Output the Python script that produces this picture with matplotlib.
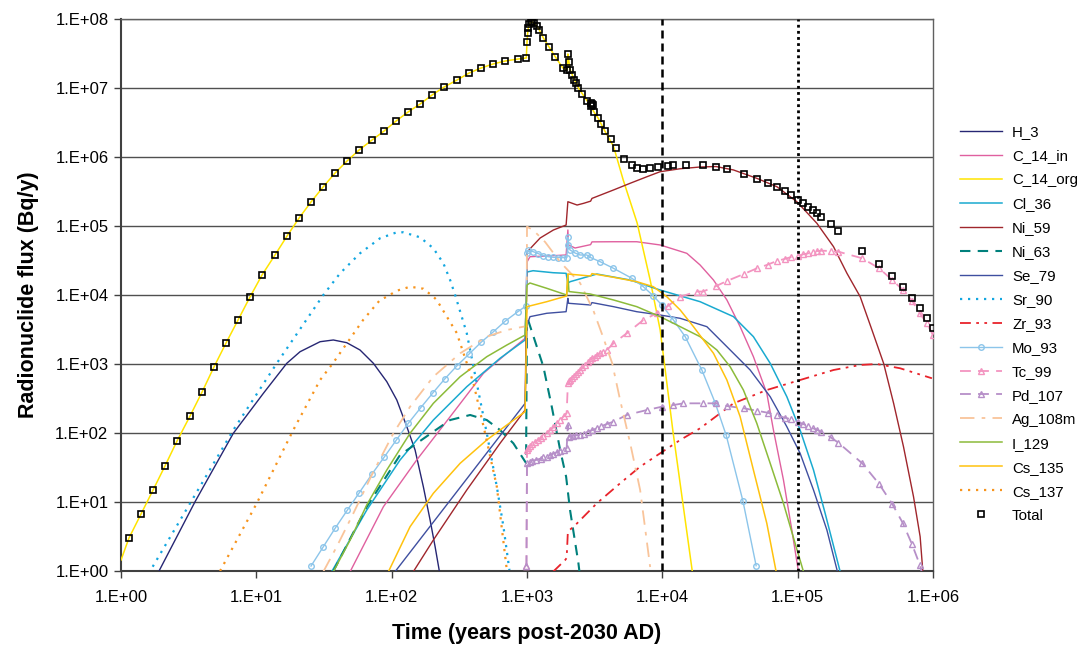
import numpy as np
import matplotlib
matplotlib.use('Agg')
import matplotlib.pyplot as plt
from matplotlib.ticker import FixedLocator, FuncFormatter, NullLocator

# All values as log10(time, years) and log10(flux, Bq/y)
H_3_t = [0.281, 0.547, 0.830, 1.052, 1.225, 1.323, 1.471, 1.569, 1.668, 1.766, 1.865, 1.964, 2.038, 2.112, 2.173, 2.234, 2.284, 2.321, 2.353]
H_3_f = [0.0, 1.004, 1.996, 2.575, 3.010, 3.178, 3.323, 3.348, 3.309, 3.203, 3.010, 2.744, 2.478, 2.091, 1.754, 1.222, 0.739, 0.352, -0.01]

C_14_in_t = [1.693, 1.939, 2.185, 2.432, 2.678, 2.851, 2.986, 3.0, 3.022, 3.146, 3.289, 3.302, 3.307, 3.355, 3.47, 3.48, 3.639, 3.811, 3.984, 4.181, 4.279, 4.378, 4.477, 4.575, 4.673, 4.772, 4.821, 4.895, 4.957, 5.006]
C_14_in_f = [-0.01, 0.932, 1.609, 2.236, 2.865, 3.155, 3.372, 4.478, 4.555, 4.565, 4.580, 4.942, 4.725, 4.681, 4.73, 4.77, 4.772, 4.772, 4.725, 4.604, 4.435, 4.217, 3.928, 3.541, 3.106, 2.575, 2.043, 1.319, 0.594, -0.01]

C_14_org_t = [0.0, 0.059, 0.148, 0.237, 0.325, 0.414, 0.510, 0.599, 0.687, 0.776, 0.865, 0.953, 1.042, 1.138, 1.227, 1.316, 1.404, 1.493, 1.582, 1.670, 1.759, 1.855, 1.944, 2.033, 2.121, 2.210, 2.299, 2.387, 2.483, 2.572, 2.661, 2.749, 2.838, 2.934, 2.995, 3.0, 3.005, 3.01, 3.017, 3.027, 3.039, 3.052, 3.072, 3.091, 3.121, 3.163, 3.21, 3.265, 3.298, 3.302, 3.31, 3.32, 3.335, 3.35, 3.365, 3.38, 3.41, 3.445, 3.47, 3.495, 3.525, 3.548, 3.575, 3.64, 3.711, 3.814, 3.910, 3.984, 4.080, 4.221]
C_14_org_f = [0.159, 0.478, 0.826, 1.174, 1.522, 1.884, 2.246, 2.594, 2.957, 3.304, 3.638, 3.971, 4.290, 4.580, 4.855, 5.116, 5.348, 5.565, 5.768, 5.942, 6.101, 6.246, 6.377, 6.522, 6.652, 6.768, 6.899, 7.014, 7.116, 7.217, 7.290, 7.348, 7.391, 7.420, 7.435, 7.667, 7.797, 7.870, 7.928, 7.952, 7.957, 7.938, 7.899, 7.841, 7.725, 7.594, 7.449, 7.290, 7.261, 7.493, 7.377, 7.261, 7.188, 7.116, 7.072, 7.000, 6.913, 6.812, 6.739, 6.652, 6.565, 6.478, 6.377, 6.15, 5.667, 5.043, 4.217, 3.493, 2.0, 0.0]

Cl_36_t = [1.557, 1.816, 2.062, 2.308, 2.555, 2.801, 2.986, 3.0, 3.045, 3.193, 3.289, 3.302, 3.319, 3.516, 3.762, 3.984, 4.279, 4.526, 4.673, 4.797, 4.920, 5.018, 5.117, 5.203, 5.314]
Cl_36_f = [-0.01, 0.884, 1.609, 2.188, 2.671, 3.083, 3.348, 4.333, 4.352, 4.323, 4.314, 4.174, 4.193, 4.304, 4.217, 4.072, 3.903, 3.686, 3.396, 3.010, 2.526, 2.043, 1.464, 0.836, -0.01]

Ni_59_t = [2.160, 2.308, 2.555, 2.801, 2.986, 3.0, 3.097, 3.195, 3.289, 3.302, 3.370, 3.419, 3.47, 3.48, 3.639, 3.762, 3.886, 3.984, 4.132, 4.279, 4.397, 4.526, 4.698, 4.846, 4.994, 5.142, 5.265, 5.364, 5.462, 5.549, 5.635, 5.709, 5.782, 5.856, 5.905, 5.925]
Ni_59_f = [-0.01, 0.449, 1.174, 1.851, 2.333, 4.623, 4.826, 4.942, 5.014, 5.352, 5.304, 5.329, 5.36, 5.40, 5.522, 5.619, 5.714, 5.787, 5.83, 5.855, 5.862, 5.812, 5.691, 5.570, 5.352, 5.039, 4.700, 4.315, 3.975, 3.493, 3.010, 2.430, 1.801, 1.077, 0.497, -0.01]

Ni_63_t = [1.567, 1.816, 2.062, 2.308, 2.432, 2.580, 2.703, 2.801, 2.899, 2.993, 3.0, 3.121, 3.183, 3.245, 3.289, 3.318, 3.380, 3.39]
Ni_63_f = [-0.01, 0.932, 1.681, 2.019, 2.188, 2.261, 2.188, 2.043, 1.851, 1.565, 3.686, 2.961, 2.381, 1.754, 1.367, 0.884, 0.112, -0.05]

Se_79_t = [2.025, 2.986, 3.0, 3.022, 3.146, 3.289, 3.302, 3.307, 3.47, 3.48, 3.639, 3.811, 3.984, 4.132, 4.329, 4.477, 4.649, 4.797, 4.920, 5.018, 5.117, 5.216, 5.294]
Se_79_f = [-0.01, 2.430, 3.565, 3.686, 3.735, 3.758, 3.952, 3.880, 3.855, 3.89, 3.831, 3.758, 3.710, 3.662, 3.541, 3.251, 2.913, 2.526, 2.091, 1.706, 1.174, 0.594, -0.01]

Sr_90_t = [0.234, 0.830, 1.151, 1.495, 1.619, 1.766, 1.914, 2.038, 2.086, 2.210, 2.308, 2.382, 2.432, 2.469, 2.555, 2.629, 2.703, 2.777, 2.826, 2.870]
Sr_90_f = [0.062, 2.043, 3.010, 4.0, 4.315, 4.604, 4.822, 4.909, 4.909, 4.836, 4.677, 4.460, 4.217, 4.0, 3.445, 2.720, 1.996, 1.222, 0.642, 0.014]

Zr_93_t = [3.193, 3.282, 3.293, 3.302, 3.370, 3.516, 3.688, 3.836, 3.984, 4.132, 4.279, 4.526, 4.772, 5.018, 5.265, 5.462, 5.586, 5.757, 5.992]
Zr_93_f = [-0.01, 0.159, 0.188, 0.570, 0.691, 0.981, 1.271, 1.512, 1.706, 1.899, 2.068, 2.430, 2.623, 2.768, 2.913, 2.986, 3.0, 2.938, 2.793]

Mo_93_t = [1.404, 1.495, 1.582, 1.673, 1.761, 1.853, 1.944, 2.035, 2.123, 2.215, 2.304, 2.392, 2.481, 2.572, 2.661, 2.752, 2.840, 2.932, 2.993,
           3.0, 3.009, 3.046, 3.083, 3.121, 3.158, 3.195, 3.232, 3.269, 3.295,
           3.302, 3.306, 3.318, 3.355, 3.392, 3.442, 3.466, 3.540, 3.639, 3.775,
           3.860, 3.934, 3.996, 4.082, 4.169, 4.292, 4.390, 4.472, 4.595, 4.693]
Mo_93_f = [0.072, 0.352, 0.619, 0.884, 1.135, 1.401, 1.648, 1.899, 2.141, 2.367, 2.580, 2.783, 2.971, 3.145, 3.315, 3.468, 3.623, 3.758, 3.841,
           4.604, 4.652, 4.628, 4.60, 4.570, 4.555, 4.546, 4.543, 4.541, 4.543,
           4.841, 4.725, 4.652, 4.609, 4.580, 4.580, 4.546, 4.483, 4.387, 4.242,
           4.120, 3.986, 3.855, 3.638, 3.396, 2.913, 2.439, 1.967, 1.019, 0.077]

Tc_99_t = [2.996, 3.0, 3.01, 3.025, 3.04, 3.06, 3.08, 3.10, 3.12, 3.146, 3.17, 3.195, 3.22, 3.245, 3.27, 3.293,
           3.302, 3.31, 3.32, 3.33, 3.345, 3.36, 3.375, 3.392, 3.41, 3.43, 3.45, 3.466, 3.48, 3.50, 3.52, 3.54, 3.565, 3.589,
           3.639, 3.737, 3.860, 3.959, 4.041, 4.132, 4.255, 4.301, 4.398, 4.477, 4.602, 4.699, 4.778, 4.845, 4.903, 4.954,
           5.0, 5.041, 5.079, 5.114, 5.146, 5.176, 5.243, 5.301, 5.477, 5.602, 5.699, 5.778, 5.845, 5.903, 5.954, 6.0]
Tc_99_f = [0.07, 1.754, 1.78, 1.81, 1.84, 1.87, 1.90, 1.93, 1.96, 1.996, 2.04, 2.08, 2.14, 2.19, 2.24, 2.286,
           2.720, 2.75, 2.77, 2.80, 2.83, 2.86, 2.89, 2.913, 2.95, 2.99, 3.03, 3.058, 3.08, 3.10, 3.13, 3.155, 3.18, 3.20,
           3.30, 3.445, 3.638, 3.735, 3.84, 3.975, 4.05, 4.05, 4.130, 4.203, 4.304, 4.387, 4.439, 4.493, 4.522, 4.551,
           4.565, 4.590, 4.604, 4.628, 4.638, 4.642, 4.638, 4.628, 4.532, 4.387, 4.217, 4.072, 3.917, 3.735, 3.590, 3.420]

Pd_107_t = [2.996, 3.0, 3.02, 3.04, 3.07, 3.10, 3.12, 3.146, 3.17, 3.195, 3.22, 3.245, 3.27, 3.293,
            3.302, 3.308, 3.32, 3.34, 3.36, 3.392, 3.42, 3.45, 3.48, 3.515, 3.55, 3.59, 3.639,
            3.737, 3.886, 3.996, 4.082, 4.156, 4.301, 4.398, 4.477, 4.602, 4.699, 4.778, 4.845, 4.903, 4.954,
            5.0, 5.041, 5.079, 5.114, 5.146, 5.176, 5.243, 5.301, 5.477, 5.602, 5.699, 5.778, 5.845, 5.903, 5.954]
Pd_107_f = [0.07, 1.561, 1.58, 1.60, 1.61, 1.63, 1.645, 1.657, 1.68, 1.70, 1.72, 1.74, 1.76, 1.778,
            2.116, 1.946, 1.95, 1.96, 1.965, 1.971, 1.99, 2.02, 2.04, 2.068, 2.10, 2.13, 2.164,
            2.261, 2.333, 2.381, 2.406, 2.430, 2.430, 2.430, 2.391, 2.358, 2.323, 2.294, 2.257, 2.222, 2.199,
            2.164, 2.130, 2.101, 2.068, 2.043, 2.014, 1.938, 1.859, 1.561, 1.261, 0.971, 0.691, 0.387, 0.087, -0.3]

Ag_108m_t = [1.495, 1.594, 1.717, 1.853, 2.013, 2.136, 2.308, 2.506, 2.703, 2.851, 2.974, 2.997, 3.0, 3.045, 3.134, 3.245, 3.392, 3.489, 3.562, 3.629, 3.688, 3.762, 3.836, 3.910]
Ag_108m_f = [-0.01, 0.352, 0.836, 1.391, 1.996, 2.381, 2.816, 3.155, 3.396, 3.493, 3.541, 3.541, 4.990, 4.942, 4.768, 4.478, 4.174, 3.783, 3.391, 3.014, 2.478, 1.855, 1.174, 0.058]

I_129_t = [1.569, 1.693, 1.816, 1.964, 2.136, 2.308, 2.506, 2.703, 2.851, 2.986, 3.0, 3.022, 3.146, 3.293, 3.302, 3.31, 3.466, 3.639, 3.811, 3.984, 4.132, 4.279, 4.403, 4.501, 4.599, 4.698, 4.797, 4.895, 4.981, 5.043]
I_129_f = [-0.01, 0.449, 0.957, 1.464, 1.996, 2.430, 2.816, 3.106, 3.275, 3.420, 4.145, 4.174, 4.097, 4.0, 4.30, 4.05, 4.015, 3.928, 3.831, 3.686, 3.541, 3.396, 3.203, 2.961, 2.623, 2.141, 1.561, 0.981, 0.401, -0.01]

Cs_135_t = [1.976, 2.136, 2.308, 2.506, 2.703, 2.851, 2.986, 3.0, 3.146, 3.293, 3.302, 3.47, 3.48, 3.639, 3.811, 3.934, 4.033, 4.132, 4.230, 4.378, 4.477, 4.575, 4.673, 4.772, 4.841]
Cs_135_f = [-0.01, 0.642, 1.126, 1.561, 1.899, 2.116, 2.309, 3.831, 3.903, 3.986, 4.304, 4.275, 4.31, 4.257, 4.193, 4.120, 3.975, 3.783, 3.541, 3.155, 2.768, 2.236, 1.464, 0.691, -0.01]

Cs_137_t = [0.732, 1.003, 1.273, 1.471, 1.567, 1.789, 1.914, 1.964, 2.038, 2.136, 2.234, 2.308, 2.333, 2.481, 2.604, 2.690, 2.777, 2.851]
Cs_137_f = [0.0, 0.981, 2.043, 2.768, 3.014, 3.638, 3.928, 3.975, 4.062, 4.120, 4.091, 3.975, 3.928, 3.449, 2.725, 2.0, 1.222, 0.014]

Total_t = [0.059, 0.148, 0.237, 0.325, 0.414, 0.510, 0.599, 0.687, 0.776, 0.865, 0.953, 1.042, 1.138, 1.227, 1.316, 1.404, 1.493, 1.582, 1.670, 1.759, 1.855, 1.944, 2.033, 2.121, 2.210, 2.299, 2.387, 2.483, 2.572, 2.661, 2.749, 2.838, 2.934, 2.995, 3.0, 3.005, 3.01, 3.017, 3.027, 3.039, 3.052, 3.072, 3.091, 3.121, 3.163, 3.21, 3.265, 3.298, 3.302, 3.31, 3.32, 3.335, 3.35, 3.365, 3.38, 3.41, 3.445, 3.47, 3.475, 3.48, 3.485, 3.495, 3.525, 3.548, 3.575,
           3.619, 3.659, 3.718, 3.775, 3.811, 3.860, 3.910, 3.971, 4.041, 4.079, 4.176, 4.301, 4.398, 4.477, 4.602, 4.699, 4.778, 4.845, 4.903, 4.954, 5.0, 5.041, 5.079, 5.114, 5.146, 5.176, 5.243, 5.301, 5.477, 5.602, 5.699, 5.778, 5.845, 5.903, 5.954, 6.0]
Total_f = [0.478, 0.826, 1.174, 1.522, 1.884, 2.246, 2.594, 2.957, 3.304, 3.638, 3.971, 4.290, 4.580, 4.855, 5.116, 5.348, 5.565, 5.768, 5.942, 6.101, 6.246, 6.377, 6.522, 6.652, 6.768, 6.899, 7.014, 7.116, 7.217, 7.290, 7.348, 7.391, 7.420, 7.435, 7.667, 7.797, 7.870, 7.928, 7.952, 7.957, 7.938, 7.899, 7.841, 7.725, 7.594, 7.449, 7.290, 7.261, 7.493, 7.377, 7.261, 7.188, 7.116, 7.072, 7.000, 6.913, 6.812, 6.739, 6.78, 6.77, 6.76, 6.652, 6.565, 6.478, 6.377,
           6.266, 6.126, 5.976, 5.880, 5.845, 5.831, 5.841, 5.851, 5.874, 5.884, 5.89, 5.884, 5.859, 5.826, 5.752, 5.686, 5.623, 5.565, 5.503, 5.449, 5.381, 5.333, 5.280, 5.232, 5.184, 5.130, 5.025, 4.928, 4.642, 4.445, 4.275, 4.116, 3.961, 3.807, 3.662, 3.517]

x_ticks = [1e0, 1e1, 1e2, 1e3, 1e4, 1e5, 1e6]
y_ticks = [1e0, 1e1, 1e2, 1e3, 1e4, 1e5, 1e6, 1e7, 1e8]
ref_lines = [1e4, 1e5]

plt.rcParams['font.family'] = ['Liberation Sans', 'DejaVu Sans']

fig = plt.figure(figsize=(10.83, 6.45), dpi=100)
ax = fig.add_axes([121 / 1083, 1 - 571 / 645, (933 - 121) / 1083, (571 - 19) / 645])
ax.set_xscale('log')
ax.set_yscale('log')
ax.set_xlim(1, 1e6)
ax.set_ylim(1, 1e8)

def P(t, f):
    return 10 ** np.asarray(t), 10 ** np.asarray(f)

series = [
    ('H_3', H_3_t, H_3_f, dict(color='#262673', lw=1.0, ls='-')),
    ('C_14_in', C_14_in_t, C_14_in_f, dict(color='#E0609F', lw=1.0, ls='-')),
    ('C_14_org', C_14_org_t, C_14_org_f, dict(color='#FFE400', lw=1.1, ls='-')),
    ('Cl_36', Cl_36_t, Cl_36_f, dict(color='#1AAAD0', lw=1.1, ls='-')),
    ('Ni_59', Ni_59_t, Ni_59_f, dict(color='#A0262C', lw=1.0, ls='-')),
    ('Ni_63', Ni_63_t, Ni_63_f, dict(color='#00807C', lw=1.5, ls=(0, (5, 3.5)))),
    ('Se_79', Se_79_t, Se_79_f, dict(color='#3F4FA0', lw=1.0, ls='-')),
    ('Sr_90', Sr_90_t, Sr_90_f, dict(color='#12A6E0', lw=1.6, ls=(0, (1, 2.6)))),
    ('Zr_93', Zr_93_t, Zr_93_f, dict(color='#E8232B', lw=1.3, ls=(0, (6, 3, 1.5, 3, 1.5, 3)))),
    ('Mo_93', Mo_93_t, Mo_93_f, dict(color='#8CC5EA', lw=1.0, ls='-', marker='o', ms=4, mfc='none', mew=1.0)),
    ('Tc_99', Tc_99_t, Tc_99_f, dict(color='#F394C0', lw=1.3, ls=(0, (6, 4)), marker='^', ms=5, mfc='none', mew=1.0)),
    ('Pd_107', Pd_107_t, Pd_107_f, dict(color='#B68FC8', lw=1.3, ls=(0, (6, 4)), marker='^', ms=5, mfc='none', mew=1.0)),
    ('Ag_108m', Ag_108m_t, Ag_108m_f, dict(color='#F9C49A', lw=1.3, ls=(0, (8, 4, 2, 4)))),
    ('I_129', I_129_t, I_129_f, dict(color='#8CBB3A', lw=1.1, ls='-')),
    ('Cs_135', Cs_135_t, Cs_135_f, dict(color='#FFC20E', lw=1.1, ls='-')),
    ('Cs_137', Cs_137_t, Cs_137_f, dict(color='#F7941D', lw=1.6, ls=(0, (1, 2.6)))),
]

handles = []
for name, t, f, st in series:
    x, y = P(t, f)
    h, = ax.plot(x, y, label=name, zorder=3, **st)
    handles.append(h)

xt, yt = P(Total_t, Total_f)
ht, = ax.plot(xt, yt, ls='none', marker='s', ms=4.3, mfc='none', mec='black', mew=1.2, label='Total', zorder=5)
handles.append(ht)

ax.axvline(ref_lines[0], color='black', lw=1.8, ls=(0, (3.2, 2)), zorder=4)
ax.axvline(ref_lines[1], color='black', lw=2.0, ls=(0, (1, 1.2)), zorder=4)

ax.xaxis.set_major_locator(FixedLocator(x_ticks))
ax.yaxis.set_major_locator(FixedLocator(y_ticks))
ax.xaxis.set_minor_locator(NullLocator())
ax.yaxis.set_minor_locator(NullLocator())
fmt = FuncFormatter(lambda v, p: '1.E+%02d' % int(round(np.log10(v))))
ax.xaxis.set_major_formatter(fmt)
ax.yaxis.set_major_formatter(fmt)
ax.tick_params(axis='both', labelsize=12, length=5, width=1, color='#404040', direction='out')
ax.tick_params(axis='x', pad=9)
ax.tick_params(axis='y', pad=4)

ax.grid(axis='y', color='#505050', lw=1.0, zorder=1)
ax.set_axisbelow(True)
for s in ['left', 'bottom']:
    ax.spines[s].set_color('#404040')
    ax.spines[s].set_linewidth(1.5)
for s in ['top', 'right']:
    ax.spines[s].set_color('#606060')
    ax.spines[s].set_linewidth(1.0)

ax.set_xlabel('Time (years post-2030 AD)', fontsize=15.5, fontweight='bold', labelpad=13)
ax.set_ylabel('Radionuclide flux (Bq/y)', fontsize=15.5, fontweight='bold', labelpad=12)

fig.legend(handles=handles, loc='upper left', bbox_to_anchor=(954 / 1083, 1 - 119 / 645),
           frameon=False, fontsize=10.8, handlelength=2.8, handletextpad=0.67, labelspacing=0.665,
           borderaxespad=0)

fig.savefig('out.png', dpi=100)
